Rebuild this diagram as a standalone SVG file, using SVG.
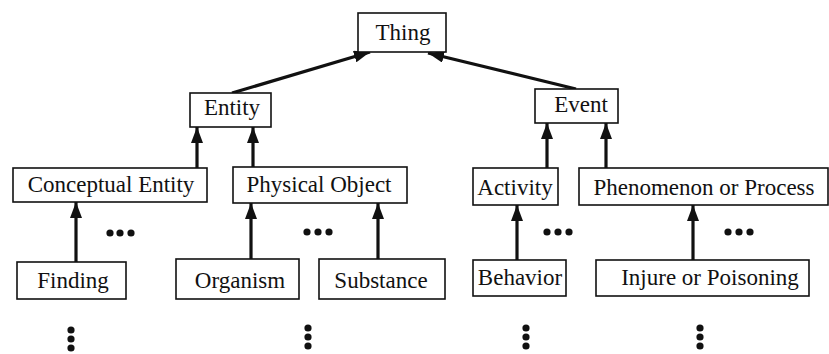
<svg xmlns="http://www.w3.org/2000/svg" width="829" height="354" viewBox="0 0 829 354">
  <style>
    .box { fill: #fff; stroke: #111; stroke-width: 1.6; }
    .lbl { font-family: "Liberation Serif", "DejaVu Serif", serif; font-size: 23px; fill: #111; text-anchor: middle; }
    .edge { stroke: #111; stroke-width: 3.2; fill: none; marker-end: url(#head); }
    .dot { fill: #111; }
  </style>
  <defs>
    <marker id="head" markerUnits="userSpaceOnUse" markerWidth="16" markerHeight="12" refX="16" refY="6" orient="auto">
      <path d="M0,0 L16,6 L0,12 z" fill="#111"/>
    </marker>
  </defs>
  <rect width="829" height="354" fill="#fff"/>

  <!-- connectors (child to parent) -->
  <g id="connectors">
    <line class="edge" x1="232" y1="93" x2="370" y2="52"/>
    <line class="edge" x1="576" y1="89" x2="428" y2="53"/>
    <line class="edge" x1="197" y1="168" x2="197" y2="127"/>
    <line class="edge" x1="253" y1="167" x2="253" y2="127"/>
    <line class="edge" x1="547" y1="168" x2="547" y2="123"/>
    <line class="edge" x1="606" y1="168" x2="606" y2="123"/>
    <line class="edge" x1="76" y1="262" x2="76" y2="202"/>
    <line class="edge" x1="251" y1="259" x2="251" y2="203"/>
    <line class="edge" x1="378" y1="259" x2="378" y2="203"/>
    <line class="edge" x1="517" y1="260" x2="517" y2="205"/>
    <line class="edge" x1="693" y1="260" x2="693" y2="205"/>
  </g>

  <g id="thing"><rect class="box" x="358" y="13" width="88" height="39"/><text class="lbl" x="403" y="40">Thing</text></g>
  <g id="entity"><rect class="box" x="190" y="93" width="81" height="34"/><text class="lbl" x="232" y="115">Entity</text></g>
  <g id="event"><rect class="box" x="535" y="89" width="83" height="34"/><text class="lbl" x="581" y="112">Event</text></g>
  <g id="conceptual-entity"><rect class="box" x="13" y="168" width="194" height="34"/><text class="lbl" x="111" y="192">Conceptual Entity</text></g>
  <g id="physical-object"><rect class="box" x="233" y="167" width="174" height="36"/><text class="lbl" x="319" y="192">Physical Object</text></g>
  <g id="activity"><rect class="box" x="473" y="168" width="85" height="37"/><text class="lbl" x="515" y="195">Activity</text></g>
  <g id="phenomenon-or-process"><rect class="box" x="579" y="168" width="249" height="37"/><text class="lbl" x="704" y="195">Phenomenon or Process</text></g>
  <g id="finding"><rect class="box" x="17" y="262" width="109" height="37"/><text class="lbl" x="73" y="288">Finding</text></g>
  <g id="organism"><rect class="box" x="176" y="259" width="123" height="40"/><text class="lbl" x="240" y="288">Organism</text></g>
  <g id="substance"><rect class="box" x="319" y="259" width="126" height="40"/><text class="lbl" x="381" y="288">Substance</text></g>
  <g id="behavior"><rect class="box" x="473" y="260" width="93" height="36"/><text class="lbl" x="520" y="285">Behavior</text></g>
  <g id="injure-or-poisoning"><rect class="box" x="596" y="260" width="213" height="36"/><text class="lbl" x="710" y="285">Injure or Poisoning</text></g>

  <!-- ellipses: more siblings / more descendants -->
  <g id="ellipses">
    <circle class="dot" cx="110" cy="233" r="3.6"/><circle class="dot" cx="120" cy="233" r="3.6"/><circle class="dot" cx="131" cy="233" r="3.6"/>
    <circle class="dot" cx="307" cy="232" r="3.6"/><circle class="dot" cx="318" cy="232" r="3.6"/><circle class="dot" cx="329" cy="232" r="3.6"/>
    <circle class="dot" cx="547" cy="232" r="3.6"/><circle class="dot" cx="558" cy="232" r="3.6"/><circle class="dot" cx="569" cy="232" r="3.6"/>
    <circle class="dot" cx="728" cy="232" r="3.6"/><circle class="dot" cx="739" cy="232" r="3.6"/><circle class="dot" cx="750" cy="232" r="3.6"/>
    <circle class="dot" cx="71" cy="330" r="3.6"/><circle class="dot" cx="71" cy="339" r="3.6"/><circle class="dot" cx="71" cy="348" r="3.6"/>
    <circle class="dot" cx="308" cy="328" r="3.6"/><circle class="dot" cx="308" cy="337" r="3.6"/><circle class="dot" cx="308" cy="346" r="3.6"/>
    <circle class="dot" cx="526" cy="328" r="3.6"/><circle class="dot" cx="526" cy="337" r="3.6"/><circle class="dot" cx="526" cy="346" r="3.6"/>
    <circle class="dot" cx="700" cy="328" r="3.6"/><circle class="dot" cx="700" cy="337" r="3.6"/><circle class="dot" cx="700" cy="346" r="3.6"/>
  </g>
</svg>
